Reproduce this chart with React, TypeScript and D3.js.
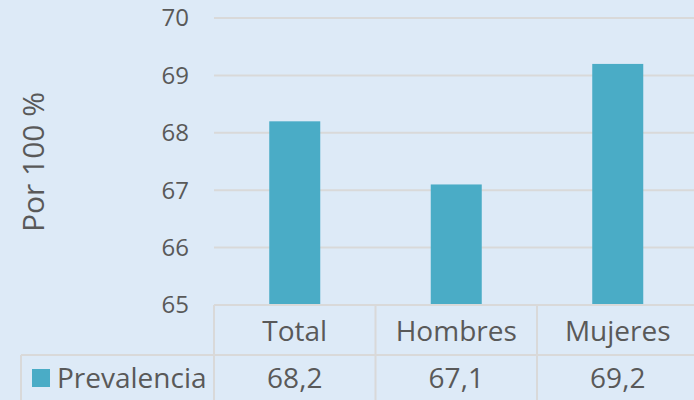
import React, { useEffect, useRef } from "react";
import * as d3 from "d3";

const categories = ["Total", "Hombres", "Mujeres"];
const prevalencia = [68.2, 67.1, 69.2];
const yTicks = [65, 66, 67, 68, 69, 70];
const seriesName = "Prevalencia";
const yLabel = "Por 100 %";

export default function App() {
  const ref = useRef<SVGSVGElement>(null);
  useEffect(() => {
    const W = 694, H = 400;
    const svg = d3.select(ref.current);
    svg.selectAll("*").remove();
    const font = "'Open Sans', sans-serif";
    const txt = "#595959";
    const grid = "#d9d9d9";
    svg.append("rect").attr("width", W).attr("height", H).attr("fill", "#ddeaf7");

    const left = 214, right = 698.5, top = 18, bottom = 305;
    const x = d3.scaleBand().domain(categories).range([left, right]).paddingInner(0).paddingOuter(0);
    const y = d3.scaleLinear().domain([65, 70]).range([bottom, top]);

    // gridlines
    svg.append("g").selectAll("line").data(yTicks).join("line")
      .attr("x1", left).attr("x2", W).attr("y1", d => y(d)).attr("y2", d => y(d))
      .attr("stroke", grid).attr("stroke-width", 2);

    // tick labels
    svg.append("g").selectAll("text").data(yTicks).join("text")
      .attr("x", 189).attr("y", d => y(d)).attr("dy", "0.35em")
      .attr("text-anchor", "end").attr("font-family", font).attr("font-size", 24).attr("fill", txt)
      .text(d => String(d));

    // bars
    const bw = 51;
    svg.append("g").selectAll("rect").data(prevalencia).join("rect")
      .attr("x", (d, i) => x(categories[i])! + x.bandwidth() / 2 - bw / 2)
      .attr("y", d => y(d)).attr("width", bw).attr("height", d => y(65) - y(d))
      .attr("fill", "#4aacc6");

    // y label
    svg.append("text").attr("transform", `translate(43.5,162) rotate(-90)`)
      .attr("text-anchor", "middle").attr("font-family", font).attr("font-size", 30).attr("fill", txt)
      .text(yLabel);

    // table
    const rowTop = bottom, rowMid = 355, rowBot = H + 5;
    const tg = svg.append("g").attr("stroke", grid).attr("stroke-width", 2);
    tg.append("line").attr("x1", left).attr("x2", W).attr("y1", rowTop).attr("y2", rowTop);
    tg.append("line").attr("x1", 21).attr("x2", W).attr("y1", rowMid).attr("y2", rowMid);
    tg.append("line").attr("x1", 21).attr("x2", 21).attr("y1", rowMid).attr("y2", rowBot);
    categories.forEach((c, i) => {
      const xx = x(c)!;
      tg.append("line").attr("x1", xx).attr("x2", xx).attr("y1", rowTop).attr("y2", rowBot);
    });

    svg.append("g").selectAll("text").data(categories).join("text")
      .attr("x", d => x(d)! + x.bandwidth() / 2).attr("y", 341)
      .attr("text-anchor", "middle").attr("font-family", font).attr("font-size", 28).attr("fill", txt)
      .text(d => d);
    svg.append("g").selectAll("text").data(prevalencia).join("text")
      .attr("x", (d, i) => x(categories[i])! + x.bandwidth() / 2).attr("y", 388)
      .attr("text-anchor", "middle").attr("font-family", font).attr("font-size", 28).attr("fill", txt)
      .text(d => d3.format(".1f")(d).replace(".", ","));

    svg.append("rect").attr("x", 32).attr("y", 369).attr("width", 18).attr("height", 18).attr("fill", "#4aacc6");
    svg.append("text").attr("x", 57).attr("y", 388).attr("font-family", font).attr("font-size", 28).attr("fill", txt)
      .text(seriesName);
  }, []);
  return <svg ref={ref} width={694} height={400} style={{ position: "absolute", left: 0, top: 0 }} />;
}
